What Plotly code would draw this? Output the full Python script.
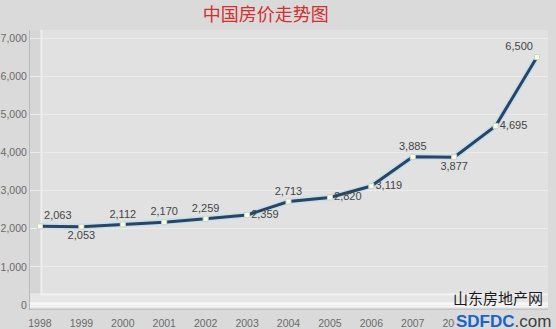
import plotly.graph_objects as go

years = [1998, 1999, 2000, 2001, 2002, 2003, 2004, 2005, 2006, 2007, 2008, 2009, 2010]
prices = [2063, 2053, 2112, 2170, 2259, 2359, 2713, 2820, 3119, 3885, 3877, 4695, 6500]
year_labels = [str(y) for y in years]
y_ticks = [0, 1000, 2000, 3000, 4000, 5000, 6000, 7000]
y_tick_labels = ["0", "1,000", "2,000", "3,000", "4,000", "5,000", "6,000", "7,000"]
title_text = "中国房价走势图"

label_pos = ["top right", "bottom center", "top center", "top center", "top center",
             "middle right", "top center", "middle right", "middle right", "top center",
             "bottom center", "middle right", "top left"]

W, H = 556, 329
L, R, T, B = 30, 8, 30, 19

fig = go.Figure()

# glow under the line
fig.add_trace(go.Scatter(x=years, y=prices, mode="lines",
                         line=dict(color="rgba(190,225,240,0.9)", width=6),
                         hoverinfo="skip", showlegend=False))
fig.add_trace(go.Scatter(
    x=years, y=prices, mode="lines+markers+text",
    line=dict(color="#2d4360", width=3),
    marker=dict(symbol="square", size=5, color="#fbfbee",
                line=dict(color="#c8d8c0", width=1)),
    text=[f"{v:,}" for v in prices], textposition=label_pos,
    textfont=dict(family="Liberation Sans, Arial", size=11, color="#454545"),
    cliponaxis=False, showlegend=False))

shapes = [
    # back wall
    dict(type="rect", xref="paper", yref="paper", x0=0.022, x1=1, y0=0.05, y1=1,
         fillcolor="#e1e1e1", line=dict(width=0), layer="below"),
    # left side wall
    dict(type="rect", xref="paper", yref="paper", x0=0, x1=0.022, y0=0, y1=1,
         fillcolor="#d6d6d6", line=dict(width=0), layer="below"),
    dict(type="line", xref="paper", yref="paper", x0=0.022, x1=0.022, y0=0.05, y1=1,
         line=dict(color="#eeeeee", width=2), layer="below"),
    # floor
    dict(type="rect", xref="paper", yref="paper", x0=0, x1=1, y0=0.0, y1=0.06,
         fillcolor="#e6e6e6", line=dict(width=0), layer="below"),
    dict(type="line", xref="paper", yref="paper", x0=0.02, x1=1, y0=0.055, y1=0.055,
         line=dict(color="#f2f2f2", width=2), layer="below"),
    dict(type="rect", xref="paper", yref="paper", x0=0, x1=1, y0=0.01, y1=0.028,
         fillcolor="#f6f6f6", line=dict(width=0), layer="below"),
    dict(type="line", xref="paper", yref="paper", x0=0, x1=1, y0=0.003, y1=0.003,
         line=dict(color="#c4c4c4", width=1.5), layer="below"),
]

fig.update_layout(
    width=W, height=H,
    margin=dict(l=L, r=R, t=T, b=B, autoexpand=False),
    paper_bgcolor="#dadada", plot_bgcolor="#dadada",
    title=dict(text=title_text, x=0.478, xanchor="center", y=0.955, yanchor="middle",
               automargin=False,
               font=dict(family="Noto Sans CJK SC", size=18, color="#d42f30")),
    shapes=shapes,
    xaxis=dict(range=[1997.76, 2010.265], tickvals=years, ticktext=year_labels,
               showgrid=False, zeroline=False, showline=False, automargin=False,
               ticks="outside", ticklen=3, tickcolor="rgba(0,0,0,0)",
               tickfont=dict(family="Liberation Sans, Arial", size=10.5, color="#6a6a6a")),
    yaxis=dict(range=[-131, 7210], tickvals=y_ticks, ticktext=y_tick_labels,
               showgrid=True, gridcolor="#ececec", gridwidth=1, zeroline=False,
               showline=True, linecolor="#b8b8b8", linewidth=1, automargin=False,
               tickfont=dict(family="Liberation Sans, Arial", size=10.5, color="#6a6a6a")),
    annotations=[
        dict(text="山东房地产网", xref="paper", yref="paper", x=0.995, y=0.045,
             xanchor="right", yanchor="middle", showarrow=False,
             font=dict(family="Noto Sans CJK SC", size=15, color="#1a1a1a")),
        dict(text="<b><span style='color:#1a63c8'>SDFDC</span></b><span style='color:#404040'>.com</span>",
             xref="paper", yref="paper", x=1.01, y=-0.04, xanchor="right", yanchor="middle",
             showarrow=False, bgcolor="#dadada", borderpad=1,
             font=dict(family="Liberation Sans, Arial", size=17, color="#404040")),
    ],
)

fig.write_html("out.html")
